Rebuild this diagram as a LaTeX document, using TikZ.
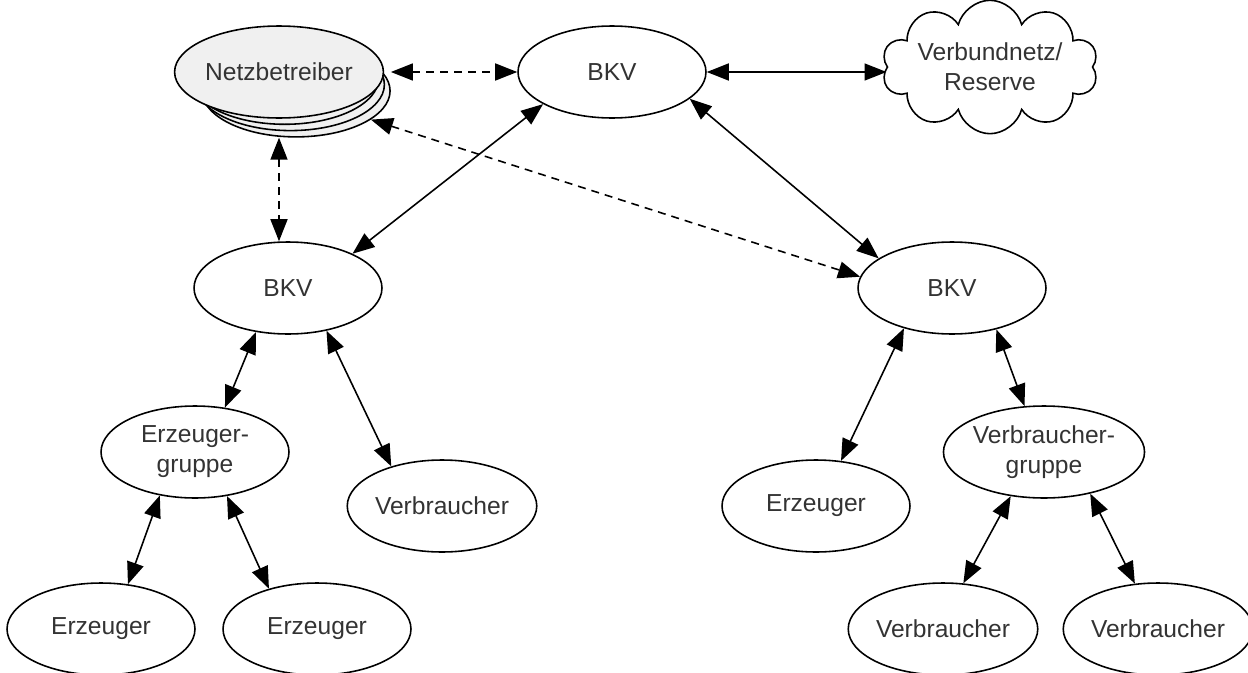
\documentclass[tikz,border=0pt]{standalone}
\usepackage{fontspec}
\setmainfont{Liberation Sans}
\usetikzlibrary{shapes.geometric,shapes.symbols,arrows.meta}

\begin{document}
\begin{tikzpicture}[x=0.02cm,y=-0.02cm,
    actor/.style={ellipse,draw,line width=0.9pt,inner sep=0pt,minimum width=3.76cm,minimum height=1.84cm,
      align=center,text=black!80,font=\fontsize{14}{17}\selectfont},
    link/.style={{Triangle[length=4.4mm,width=3.4mm]}-{Triangle[length=4.4mm,width=3.4mm]},line width=0.9pt},
    dashlink/.style={link,dash pattern=on 1.6mm off 1.2mm}]
  \useasboundingbox (0,0) rectangle (1248,673);
  % Netzbetreiber as a stack of ellipses
  \foreach \k in {3,2,1} \node[actor,fill=gray!12] (nb\k) at ({279+5.7*\k},{72+6.3*\k}) {};
  \node[actor,fill=gray!12] (nb) at (279,72) {Netzbetreiber};
  \node[actor] (bkvt) at (612,72) {BKV};
  \node[cloud,draw,line width=0.9pt,cloud puffs=10,aspect=2.3,inner sep=0pt,minimum width=4.2cm,minimum height=1.5cm,
    align=center,text=black!80,font=\fontsize{14}{17}\selectfont] (net) at (990,67) {Verbundnetz/\\Reserve};
  \node[actor] (bkvl) at (288,288) {BKV};
  \node[actor] (bkvr) at (952,288) {BKV};
  \node[actor] (ezg) at (195,452) {Erzeuger-\\gruppe};
  \node[actor] (vl) at (442,506) {Verbraucher};
  \node[actor] (em) at (816,506) {Erzeuger};
  \node[actor] (vg) at (1044,452) {Verbraucher-\\gruppe};
  \node[actor] (e1) at (101,629) {Erzeuger};
  \node[actor] (e2) at (317,629) {Erzeuger};
  \node[actor] (v1) at (943,629) {Verbraucher};
  \node[actor] (v2) at (1158,629) {Verbraucher};
  % connectors
  \draw[dashlink] (nb3.east |- bkvt.west) -- (bkvt.west);
  \draw[link] (bkvt.east) -- (bkvt.east -| net.west);
  \draw[dashlink] (nb3.-21) -- (bkvr.173);
  \draw[dashlink] (nb.center |- nb3.south) -- (nb.center |- bkvl.north);
  \draw[link] (bkvt.205.6) -- (bkvl.28);
  \draw[link] (bkvt.-19.3) -- (bkvr.158.7);
  \draw[link] (bkvl.234.5) -- (ezg.56.9);
  \draw[link] (bkvl.-48.8) -- (vl.142.2);
  \draw[link] (ezg.231.8) -- (e1.59.5);
  \draw[link] (ezg.-54.8) -- (e2.140.5);
  \draw[link] (bkvr.220.3) -- (em.61.7);
  \draw[link] (bkvr.-43.6) -- (vg.113.3);
  \draw[link] (vg.233.8) -- (v1.66);
  \draw[link] (vg.-42) -- (v2.117.3);
\end{tikzpicture}
\end{document}
